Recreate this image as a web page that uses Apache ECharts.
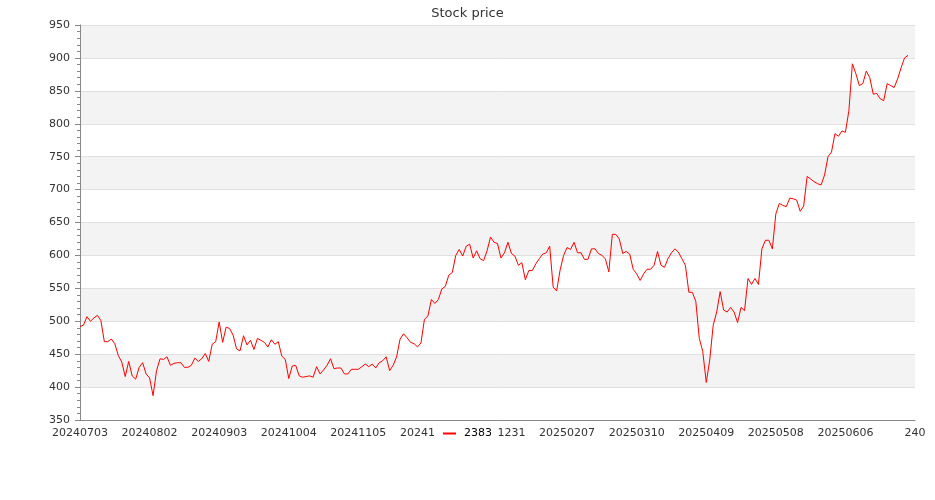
<!DOCTYPE html>
<html>
<head>
<meta charset="utf-8">
<script src="https://cdn.jsdelivr.net/npm/echarts@6/dist/echarts.min.js"></script>
<style>
html,body{margin:0;padding:0;background:#fff;}
#chart{width:935px;height:500px;}
</style>
</head>
<body>
<div id="chart"></div>
<script>
const chartTitle = 'Stock price';
const seriesName = '2383';
const dates = [
'20240703','20240704','20240705','20240708','20240709','20240710','20240711','20240712','20240715','20240716',
'20240717','20240718','20240719','20240722','20240723','20240726','20240729','20240730','20240731','20240801',
'20240802','20240805','20240806','20240807','20240808','20240809','20240812','20240813','20240814','20240815',
'20240816','20240819','20240820','20240821','20240822','20240823','20240826','20240827','20240828','20240902',
'20240903','20240904','20240905','20240906','20240909','20240910','20240911','20240912','20240913','20240916',
'20240918','20240919','20240920','20240923','20240924','20240925','20240926','20240927','20240930','20241001',
'20241004','20241007','20241008','20241009','20241011','20241014','20241015','20241016','20241017','20241018',
'20241021','20241022','20241023','20241024','20241025','20241028','20241029','20241030','20241101','20241104',
'20241105','20241106','20241107','20241108','20241111','20241112','20241113','20241114','20241115','20241118',
'20241119','20241120','20241121','20241122','20241125','20241126','20241127','20241128','20241129','20241202',
'20241203','20241204','20241205','20241206','20241209','20241210','20241211','20241212','20241213','20241216',
'20241217','20241218','20241219','20241220','20241223','20241224','20241225','20241226','20241227','20241230',
'20241231','20250102','20250103','20250106','20250107','20250108','20250109','20250110','20250113','20250114',
'20250115','20250116','20250117','20250120','20250121','20250122','20250203','20250204','20250205','20250206',
'20250207','20250210','20250211','20250212','20250213','20250214','20250217','20250218','20250219','20250220',
'20250221','20250224','20250225','20250226','20250227','20250303','20250304','20250305','20250306','20250307',
'20250310','20250311','20250312','20250313','20250314','20250317','20250318','20250319','20250320','20250321',
'20250324','20250325','20250326','20250327','20250328','20250331','20250401','20250402','20250407','20250408',
'20250409','20250410','20250411','20250414','20250415','20250416','20250417','20250418','20250421','20250422',
'20250423','20250424','20250425','20250428','20250429','20250430','20250502','20250505','20250506','20250507',
'20250508','20250509','20250512','20250513','20250514','20250515','20250516','20250519','20250520','20250521',
'20250522','20250523','20250526','20250527','20250528','20250529','20250602','20250603','20250604','20250605',
'20250606','20250609','20250610','20250611','20250612','20250613','20250616','20250617','20250618','20250619',
'20250620','20250623','20250624','20250625','20250626','20250627','20250630','20250701','20250702','20250703'
];
const trailingCategory = '240';
const prices = [
492,494,507,500,505,509,501,469,469,473,466,448,438,416,439,417,412,430,437,420,
414,387,425,443,442,446,433,436,437,437,430,430,433,444,439,443,451,439,465,469,
499,468,491,489,479,458,455,478,464,471,457,474,471,468,461,472,465,469,447,442,
413,432,433,417,415,416,417,415,431,420,426,433,443,428,429,429,420,420,427,427,
427,431,435,431,435,429,437,440,446,425,433,446,473,481,475,468,466,461,467,503,
508,533,527,533,549,553,570,574,600,609,599,614,617,596,607,595,592,607,628,620,
618,596,604,620,603,599,585,589,563,577,577,587,595,602,604,614,552,546,578,600,
612,609,620,604,604,594,594,610,610,603,600,595,575,632,632,625,603,606,602,579,
572,562,572,579,579,585,606,585,582,595,604,610,605,595,585,544,544,530,474,454,
407,441,494,514,545,517,514,521,514,498,521,516,565,556,565,556,610,623,623,610,
663,679,676,674,687,686,684,667,675,720,716,712,709,707,722,750,757,785,781,789,
787,820,891,876,858,861,880,870,845,846,838,835,861,858,855,868,885,900,904
];
const yMin = 350, yMax = 950, yStep = 50;

const FONT = 'DejaVu Sans';
const chart = echarts.init(document.getElementById('chart'), null, {renderer: 'canvas'});
chart.setOption({
  animation: false,
  backgroundColor: '#ffffff',
  textStyle: {fontFamily: FONT},
  title: {
    text: chartTitle,
    left: 'center',
    top: 2,
    textStyle: {fontFamily: FONT, fontSize: 13, fontWeight: 'normal', color: '#333'}
  },
  legend: {
    data: [{name: seriesName, icon: 'rect'}],
    left: 'center',
    top: 426,
    itemWidth: 13,
    itemHeight: 2,
    itemGap: 10,
    padding: [2, 5, 2, 8],
    backgroundColor: '#ffffff',
    textStyle: {fontFamily: FONT, fontSize: 11, color: '#000', padding: [0, 0, 0, 3]}
  },
  grid: {left: 80, right: 20, top: 25, bottom: 80, containLabel: false},
  xAxis: {
    type: 'category',
    boundaryGap: false,
    data: dates.concat([trailingCategory]),
    axisLine: {show: true, lineStyle: {color: '#888', width: 1}},
    axisTick: {show: false},
    axisLabel: {fontFamily: FONT, fontSize: 11, color: '#333', margin: 8, interval: 19},
    splitLine: {show: false}
  },
  yAxis: {
    type: 'value',
    min: yMin,
    max: yMax,
    interval: yStep,
    axisLine: {show: true, lineStyle: {color: '#888', width: 1}},
    axisTick: {show: true, length: 5, lineStyle: {color: '#888'}},
    minorTick: {show: true, splitNumber: 5, length: 3, lineStyle: {color: '#888'}},
    axisLabel: {fontFamily: FONT, fontSize: 11, color: '#333', margin: 10},
    splitLine: {show: true, lineStyle: {color: '#e0e0e0', width: 1}},
    splitArea: {show: true, areaStyle: {color: ['#ffffff', '#f3f3f3']}}
  },
  series: [{
    name: seriesName,
    type: 'line',
    data: prices,
    showSymbol: false,
    symbol: 'none',
    color: '#ff0000',
    lineStyle: {color: '#ff0000', width: 1},
    itemStyle: {color: '#ff0000'}
  }]
});
</script>
</body>
</html>
